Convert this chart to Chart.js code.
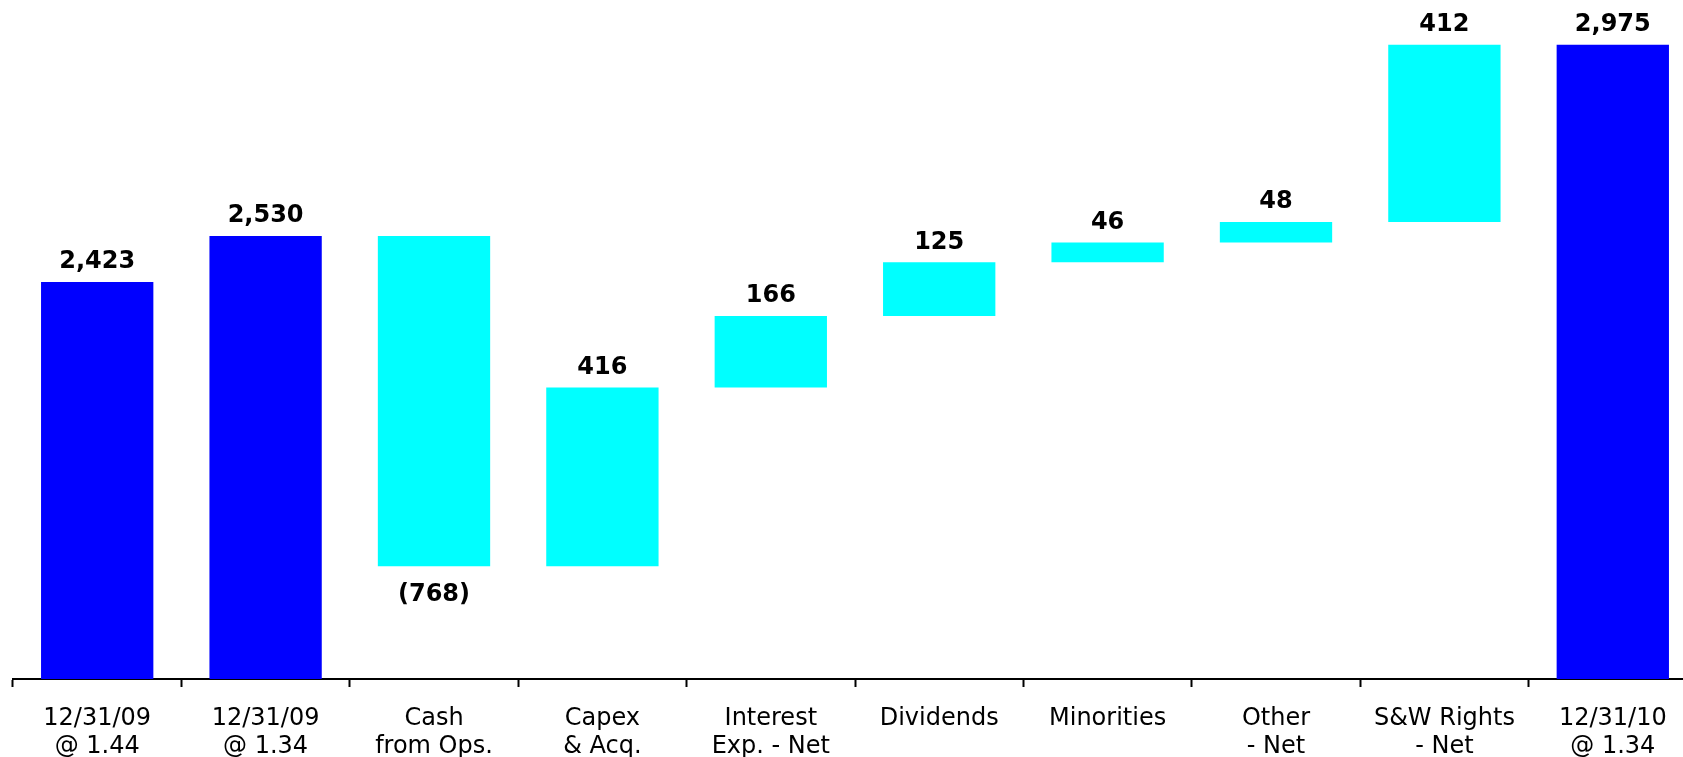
<!DOCTYPE html>
<html>
<head>
<meta charset="utf-8">
<script src="https://cdn.jsdelivr.net/npm/chart.js@4/dist/chart.umd.min.js"></script>
<style>
html,body{margin:0;padding:0;background:#fff;overflow:hidden;}
#wrap{position:relative;width:1683px;height:757px;overflow:hidden;}
#box{position:absolute;left:0;top:0;width:1700px;height:765px;}
</style>
</head>
<body>
<div id="wrap"><div id="box"><canvas id="c"></canvas></div></div>
<script>
// ---- data ----
const categories = [
  ["12/31/09", "@ 1.44"],
  ["12/31/09", "@ 1.34"],
  ["Cash", "from Ops."],
  ["Capex", "& Acq."],
  ["Interest", "Exp. - Net"],
  ["Dividends"],
  ["Minorities"],
  ["Other", "- Net"],
  ["S&W Rights", "- Net"],
  ["12/31/10", "@ 1.34"]
];
// "total" = absolute level; "delta" = change from previous level
const barKinds = ["total", "total", "delta", "delta", "delta", "delta", "delta", "delta", "delta", "total"];
const barValues = [2423, 2530, -768, 416, 166, 125, 46, 48, 412, 2975];
const yMin = 1500;
const yMax = 3000;

// ---- build floating bars ----
const barData = [];
const barColors = [];
let level = 0;
barValues.forEach((v, i) => {
  if (barKinds[i] === "total") {
    level = v;
    barData.push(v);
    barColors.push("#0000FF");
  } else {
    barData.push([level, level + v]);
    level = level + v;
    barColors.push("#00FFFF");
  }
});
const fmt = v => v < 0 ? "(" + Math.abs(v).toLocaleString("en-US") + ")" : v.toLocaleString("en-US");

const valueLabels = {
  id: "valueLabels",
  afterDatasetsDraw(chart) {
    const ctx = chart.ctx;
    const meta = chart.getDatasetMeta(0);
    ctx.save();
    ctx.font = "bold 24px 'DejaVu Sans', Verdana, sans-serif";
    ctx.fillStyle = "#000";
    ctx.textAlign = "center";
    ctx.textBaseline = "middle";
    meta.data.forEach((el, i) => {
      const v = barValues[i];
      const top = Math.min(el.y, el.base);
      const bottom = Math.max(el.y, el.base);
      if (v < 0) {
        ctx.fillText(fmt(v), el.x, bottom + 28);
      } else {
        ctx.fillText(fmt(v), el.x, top - 20);
      }
    });
    ctx.restore();
  }
};

new Chart(document.getElementById("c"), {
  type: "bar",
  data: {
    labels: categories,
    datasets: [{
      data: barData,
      backgroundColor: barColors,
      borderWidth: 0,
      barPercentage: 0.667,
      categoryPercentage: 1.0,
      clip: 0
    }]
  },
  options: {
    responsive: true,
    maintainAspectRatio: false,
    animation: false,
    layout: { padding: { left: 13, right: 3, top: 34, bottom: 0 } },
    plugins: { legend: { display: false }, tooltip: { enabled: false } },
    scales: {
      x: {
        offset: true,
        grid: {
          display: true,
          offset: true,
          drawOnChartArea: false,
          drawTicks: true,
          tickLength: 8,
          tickWidth: 2,
          tickColor: "#000",
          color: "#000"
        },
        border: { display: true, color: "#000", width: 2 },
        ticks: {
          color: "#000",
          padding: 17,
          maxRotation: 0,
          autoSkip: false,
          font: { family: "'DejaVu Sans', Verdana, sans-serif", size: 24, lineHeight: 1.2 }
        },
        afterFit(s) { s.height = 86; }
      },
      y: {
        display: false,
        min: yMin,
        max: yMax
      }
    }
  },
  plugins: [valueLabels]
});
</script>
</body>
</html>
